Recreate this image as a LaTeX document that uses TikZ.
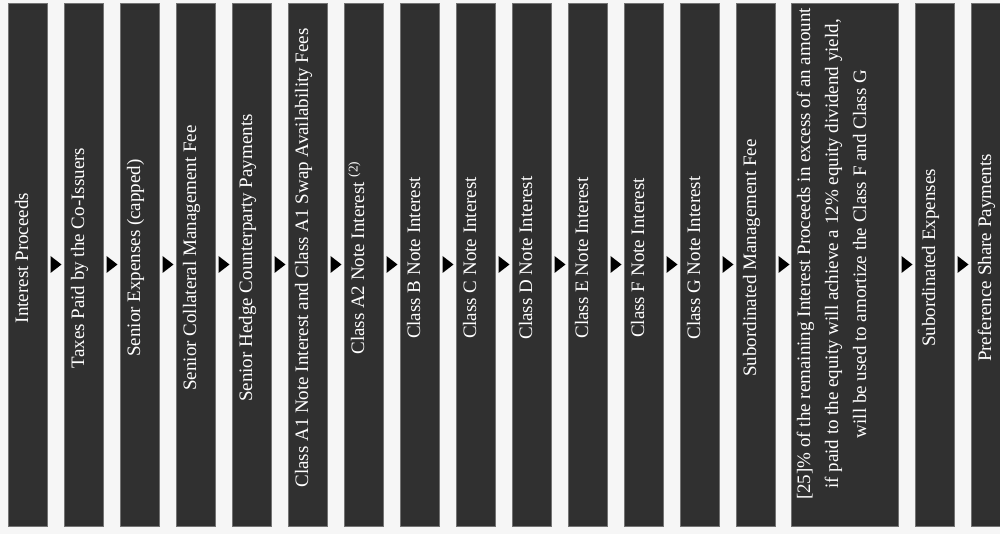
\documentclass[tikz,border=0pt]{standalone}
\usepackage{fontspec}
\setmainfont{Liberation Serif}
\definecolor{barfill}{gray}{0.19}
\definecolor{bgfill}{gray}{0.965}
\definecolor{baredge}{gray}{0.45}
\begin{document}
\begin{tikzpicture}[x=1pt,y=1pt,
  bar/.style={fill=barfill, draw=baredge, line width=0.6pt, minimum width=39pt,
    minimum height=523pt, inner sep=0pt, outer sep=0pt, anchor=south west},
  lbl/.style={text=white, rotate=90, anchor=base, inner sep=0pt,
    font=\fontsize{19}{27}\selectfont},
  tri/.style={fill=black}]
\useasboundingbox (0,0) rectangle (1000,534);
\clip (0,0) rectangle (1000,534);
\fill[bgfill] (0,0) rectangle (1000,534);
% narrow bars 1..14
\foreach \i in {1,...,14} {
  \node[bar] (b\i) at ({8+56*(\i-1)},8) {};
}
\node[bar, minimum width=107pt] (b15) at (791,8) {};
\node[bar] (b16) at (915,8) {};
\node[bar] (b17) at (971,8) {};
% arrows
\foreach \i in {1,...,16} {
  \fill[tri] ([xshift=3.5pt,yshift=-8.5pt]b\i.east) -- ++(11,8.5) -- ++(-11,8.5) -- cycle;
}
% labels
\node[lbl] (t1) at (28,276) {Interest Proceeds};
\node[lbl] (t2) at (84,276) {Taxes Paid by the Co-Issuers};
\node[lbl] (t3) at (140,276) {Senior Expenses (capped)};
\node[lbl] (t4) at (196,276) {Senior Collateral Management Fee};
\node[lbl] (t5) at (252,276) {Senior Hedge Counterparty Payments};
\node[lbl] (t6) at (308,276) {Class A1 Note Interest and Class A1 Swap Availability Fees};
\node[lbl] (t7) at (364,276) {Class A2 Note Interest \textsuperscript{(2)}};
\node[lbl] (t8) at (420,276) {Class B Note Interest};
\node[lbl] (t9) at (476,276) {Class C Note Interest};
\node[lbl] (t10) at (532,276) {Class D Note Interest};
\node[lbl] (t11) at (588,276) {Class E Note Interest};
\node[lbl] (t12) at (644,276) {Class F Note Interest};
\node[lbl] (t13) at (700,276) {Class G Note Interest};
\node[lbl] (t14) at (756,276) {Subordinated Management Fee};
\node[lbl] (t15a) at (810,280) {[25]\% of the remaining Interest Proceeds in excess of an amount};
\node[lbl] (t15b) at (838,280) {if paid to the equity will achieve a 12\% equity dividend yield,};
\node[lbl] (t15c) at (866,280) {will be used to amortize the Class F and Class G};
\node[lbl] (t16) at (935,276) {Subordinated Expenses};
\node[lbl] (t17) at (991,276) {Preference Share Payments};
\end{tikzpicture}
\end{document}
